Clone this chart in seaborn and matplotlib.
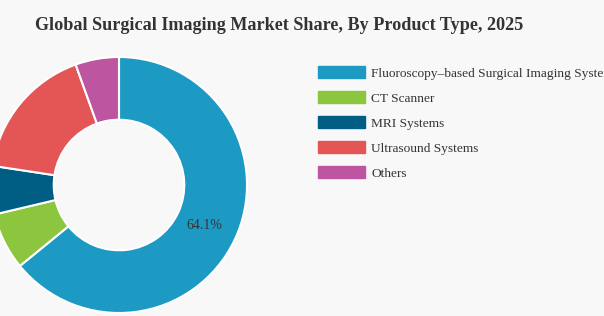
import matplotlib
matplotlib.use("Agg")
import matplotlib.pyplot as plt
import seaborn as sns
from matplotlib.patches import Patch

categories = ["Fluoroscopy\u2013based Surgical Imaging Systems", "CT Scanner",
              "MRI Systems", "Ultrasound Systems", "Others"]
shares = [64.1, 7.2, 6.1, 17.1, 5.5]
colors = ["#1d9ac3", "#8cc63f", "#005e84", "#e45555", "#bd55a1"]
title = "Global Surgical Imaging Market Share, By Product Type, 2025"

sns.set_theme(style="white")
plt.rcParams["font.family"] = ["Liberation Serif", "DejaVu Serif"]
bg = "#f8f8f8"
palette = sns.color_palette(colors)

fig = plt.figure(figsize=(6.04, 3.16), dpi=100, facecolor=bg)
W, H = 604, 316
cx, cy, R = 119, 185, 128
ax = fig.add_axes([(cx - R) / W, (H - cy - R) / H, 2 * R / W, 2 * R / H])
ax.set_facecolor(bg)

wedges, texts, autotexts = ax.pie(
    shares, colors=palette, startangle=90, counterclock=False,
    autopct=lambda p: f"{p:.1f}%" if p > 50 else "",
    pctdistance=0.74, radius=1.0,
    wedgeprops=dict(width=0.49, edgecolor="white", linewidth=1.5),
    textprops=dict(color="#333333", fontsize=10))
ax.set_xlim(-1, 1)
ax.set_ylim(-1, 1)
ax.set_aspect("equal")
ax.axis("off")

fig.text(279.5 / W, 1 - 26 / H, title, ha="center", va="center",
         fontsize=13.1, fontweight="bold", color="#333333")

handles = [Patch(facecolor=c, edgecolor=c) for c in palette]
fig.legend(handles, categories, loc="upper left",
           bbox_to_anchor=(318 / W, 1 - 66 / H), frameon=False,
           borderpad=0, borderaxespad=0, fontsize=9.6,
           handlelength=3.5, handleheight=1.0, handletextpad=0.5,
           labelspacing=0.86, labelcolor="#333333")

fig.savefig("out.png", dpi=100, facecolor=bg)
